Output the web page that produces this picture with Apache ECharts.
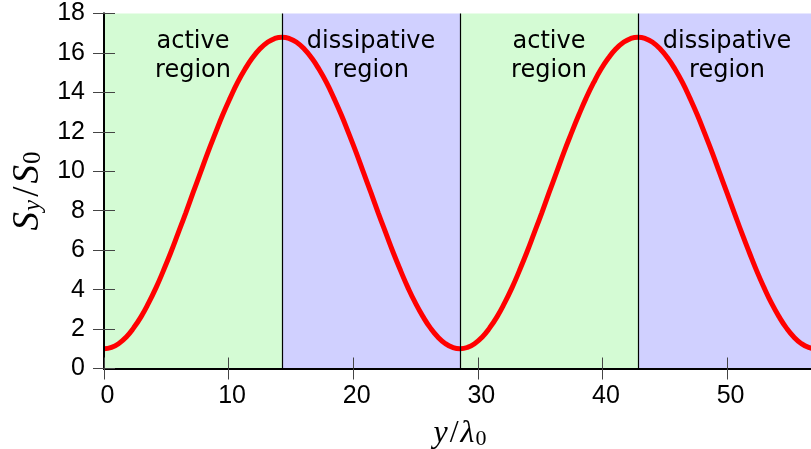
<!DOCTYPE html>
<html>
<head>
<meta charset="utf-8">
<title>S_y / S_0</title>
<script src="https://cdn.jsdelivr.net/npm/echarts@6/dist/echarts.min.js"></script>
<style>
  html, body { margin: 0; padding: 0; background: #fff; }
  #chart { width: 811px; height: 449px; }
</style>
</head>
<body>
<div id="chart"></div>
<script>
// position y/lambda_0 and the flux S_y/S_0
const yPos = [
  0, 0.60, 1.19, 1.79, 2.38, 2.98, 3.57, 4.17, 4.76, 5.36, 5.95, 6.55, 7.14, 7.74, 8.33, 8.93,
  9.52, 10.12, 10.71, 11.31, 11.90, 12.50, 13.10, 13.69, 14.29,
  14.88, 15.48, 16.07, 16.67, 17.26, 17.86, 18.45, 19.05, 19.64, 20.24, 20.83, 21.43, 22.02,
  22.62, 23.21, 23.81, 24.40, 25.00, 25.60, 26.19, 26.79, 27.38, 27.98, 28.57,
  29.17, 29.76, 30.36, 30.95, 31.55, 32.14, 32.74, 33.33, 33.93, 34.52, 35.12, 35.71, 36.31,
  36.90, 37.50, 38.10, 38.69, 39.29, 39.88, 40.48, 41.07, 41.67, 42.26, 42.86,
  43.45, 44.05, 44.64, 45.24, 45.83, 46.43, 47.02, 47.62, 48.21, 48.81, 49.40, 50.00, 50.60,
  51.19, 51.79, 52.38, 52.98, 53.57, 54.17, 54.76, 55.36, 55.95, 56.55, 57.14
]
const flux = [
  1.00, 1.07, 1.27, 1.60, 2.06, 2.63, 3.31, 4.09, 4.95, 5.88, 6.86, 7.87, 8.90, 9.93, 10.95,
  11.92, 12.85, 13.71, 14.49, 15.17, 15.74, 16.20, 16.53, 16.73, 16.80,
  16.73, 16.53, 16.20, 15.74, 15.17, 14.49, 13.71, 12.85, 11.92, 10.95, 9.93, 8.90, 7.87,
  6.86, 5.88, 4.95, 4.09, 3.31, 2.63, 2.06, 1.60, 1.27, 1.07, 1.00,
  1.07, 1.27, 1.60, 2.06, 2.63, 3.31, 4.09, 4.95, 5.88, 6.86, 7.87, 8.90, 9.93, 10.95,
  11.92, 12.85, 13.71, 14.49, 15.17, 15.74, 16.20, 16.53, 16.73, 16.80,
  16.73, 16.53, 16.20, 15.74, 15.17, 14.49, 13.71, 12.85, 11.92, 10.95, 9.93, 8.90, 7.87,
  6.86, 5.88, 4.95, 4.09, 3.31, 2.63, 2.06, 1.60, 1.27, 1.07, 1.00
]

// region borders and names
const regionEdges = [0, 14.29, 28.57, 42.86, 57.14]
const regionNames = ['active\nregion', 'dissipative\nregion', 'active\nregion', 'dissipative\nregion']
const regionColors = ['#d4fbd4', '#d0d0ff', '#d4fbd4', '#d0d0ff']

const xTicks = [0, 10, 20, 30, 40, 50]
const yTicks = [0, 2, 4, 6, 8, 10, 12, 14, 16, 18]

const tickFont = 'Liberation Sans'
const mathFont = 'Liberation Serif'

const chart = echarts.init(document.getElementById('chart'))

const areaData = []
for (let i = 0; i < regionNames.length; i++) {
  areaData.push([
    {
      xAxis: regionEdges[i],
      itemStyle: { color: regionColors[i] },
      label: { formatter: regionNames[i] }
    },
    { xAxis: regionEdges[i + 1] }
  ])
}
const edgeLines = regionEdges.slice(1, -1).map(v => ({ xAxis: v }))

const frame = { show: true, lineStyle: { color: '#000', width: 2 } }
const ticks = { show: true, inside: true, length: 11, lineStyle: { color: '#444', width: 1 } }

function xAxis(pos, showLabel) {
  return {
    type: 'value',
    position: pos,
    min: 0,
    max: regionEdges[regionEdges.length - 1],
    interval: 10,
    z: 10,
    axisLine: frame,
    axisTick: ticks,
    splitLine: { show: false },
    axisLabel: {
      show: showLabel,
      margin: 15,
      padding: [0, 0, 0, 7],
      fontFamily: tickFont,
      fontSize: 25,
      color: '#000',
      showMaxLabel: false,
      formatter: v => (xTicks.includes(v) ? String(v) : '')
    }
  }
}

function yAxis(pos, showLabel) {
  return {
    type: 'value',
    position: pos,
    min: yTicks[0],
    max: yTicks[yTicks.length - 1],
    interval: 2,
    z: 10,
    axisLine: frame,
    axisTick: ticks,
    splitLine: { show: false },
    axisLabel: {
      show: showLabel,
      margin: 19,
      fontFamily: tickFont,
      fontSize: 25,
      color: '#000'
    }
  }
}

const xAxisMain = xAxis('bottom', true)
xAxisMain.name = '{i|y}{n|/}{l|λ}{s|0}'
xAxisMain.nameLocation = 'middle'
xAxisMain.nameGap = 49
xAxisMain.nameTextStyle = {
  rich: {
    i: { fontFamily: mathFont, fontStyle: 'italic', fontSize: 32, color: '#000' },
    n: { fontFamily: mathFont, fontSize: 32, color: '#000', padding: [0, 2, 0, 2] },
    l: { fontFamily: mathFont, fontStyle: 'italic', fontSize: 32, color: '#000' },
    s: { fontFamily: mathFont, fontSize: 22, color: '#000', verticalAlign: 'bottom', padding: [11, 0, 0, 1] }
  }
}

const yAxisMain = yAxis('left', true)
yAxisMain.name = '{i|S}{t|y}{n|/}{i|S}{s|0}'
yAxisMain.nameLocation = 'middle'
yAxisMain.nameGap = 56
yAxisMain.nameTextStyle = {
  rich: {
    i: { fontFamily: mathFont, fontStyle: 'italic', fontSize: 37, color: '#000' },
    n: { fontFamily: mathFont, fontSize: 37, color: '#000', padding: [0, 3, 0, 3] },
    t: { fontFamily: mathFont, fontStyle: 'italic', fontSize: 25, color: '#000', verticalAlign: 'bottom', padding: [12, 0, 0, 1] },
    s: { fontFamily: mathFont, fontSize: 25, color: '#000', verticalAlign: 'bottom', padding: [12, 0, 0, 1] }
  }
}

chart.setOption({
  animation: false,
  backgroundColor: '#fff',
  grid: {
    left: 104,
    top: 13.5,
    right: -5,
    bottom: 80.5,
    containLabel: false,
    outerBoundsMode: 'none'
  },
  xAxis: [xAxisMain, xAxis('top', false)],
  yAxis: [yAxisMain, yAxis('right', false)],
  series: [
    {
      name: 'regions',
      type: 'line',
      data: [],
      z: 1,
      silent: true,
      markArea: {
        silent: true,
        label: {
          show: true,
          position: 'insideTop',
          distance: 14,
          fontFamily: 'DejaVu Sans',
          fontSize: 24,
          lineHeight: 29,
          color: '#000',
          align: 'center'
        },
        data: areaData
      },
      markLine: {
        silent: true,
        symbol: 'none',
        label: { show: false },
        lineStyle: { color: '#000', width: 1.2, type: 'solid' },
        data: edgeLines
      }
    },
    {
      name: 'Sy/S0',
      type: 'line',
      z: 3,
      smooth: true,
      showSymbol: false,
      lineStyle: { color: '#ff0000', width: 5 },
      data: yPos.map((x, i) => [x, flux[i]])
    }
  ]
})
</script>
</body>
</html>
